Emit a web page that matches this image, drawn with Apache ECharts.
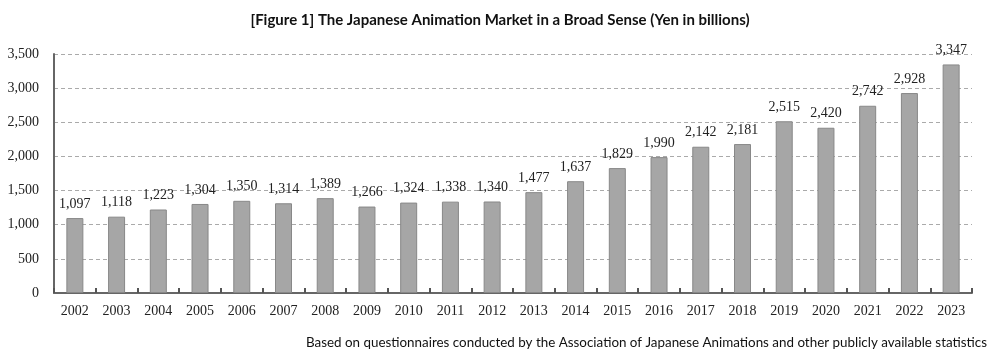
<!DOCTYPE html>
<html>
<head>
<meta charset="utf-8">
<style>
  html, body { margin: 0; padding: 0; background: #fff; }
  #chart { width: 1000px; height: 352px; }
</style>
<script src="https://cdn.jsdelivr.net/npm/echarts@6/dist/echarts.min.js"></script>
</head>
<body>
<div id="chart"></div>
<script>
// 年份与市场规模（十亿日元）
var years = ['2002', '2003', '2004', '2005', '2006', '2007', '2008', '2009', '2010', '2011', '2012',
    '2013', '2014', '2015', '2016', '2017', '2018', '2019', '2020', '2021', '2022', '2023'];
var marketValues = [1097, 1118, 1223, 1304, 1350, 1314, 1389, 1266, 1324, 1338, 1340,
    1477, 1637, 1829, 1990, 2142, 2181, 2515, 2420, 2742, 2928, 3347];

var chart = echarts.init(document.getElementById('chart'));
var serif = '"Liberation Serif", "DejaVu Serif", serif';

var option = {
    animation: false,
    title: [{
        text: '[Figure 1] The Japanese Animation Market in a Broad Sense (Yen in billions)',
        left: 'center',
        top: 8,
        textStyle: { fontFamily: 'Lato', fontWeight: 'bold', fontSize: 15, color: '#111' }
    }, {
        text: 'Based on questionnaires conducted by the Association of Japanese Animations and other publicly available statistics',
        right: 8,
        top: 331,
        textStyle: { fontFamily: 'Lato', fontWeight: 'normal', fontSize: 13.4, color: '#111' }
    }],
    grid: { left: 54, right: 28, top: 54, bottom: 59 },
    xAxis: {
        type: 'category',
        data: years,
        axisLine: { lineStyle: { color: '#666', width: 2 } },
        axisTick: { show: true, inside: true, length: 5, lineStyle: { color: '#555', width: 2 } },
        axisLabel: { fontFamily: serif, fontSize: 14, color: '#222', margin: 11 }
    },
    yAxis: {
        type: 'value',
        min: 0,
        max: 3500,
        interval: 500,
        axisLine: { show: true, lineStyle: { color: '#666', width: 2 } },
        axisTick: { show: false },
        axisLabel: {
            fontFamily: serif, fontSize: 14, color: '#222', margin: 15,
            formatter: function (v) { return v.toLocaleString('en-US'); }
        },
        splitLine: { lineStyle: { color: '#aaa', type: [4, 3], width: 1 } }
    },
    series: [{
        type: 'bar',
        data: marketValues,
        barWidth: 17,
        itemStyle: { color: '#a6a6a6', borderColor: '#888', borderWidth: 1 },
        label: {
            show: true,
            position: 'top',
            distance: 7,
            fontFamily: serif,
            fontSize: 14,
            color: '#222',
            formatter: function (p) { return p.value.toLocaleString('en-US'); }
        }
    }]
};

chart.setOption(option);
</script>
</body>
</html>
